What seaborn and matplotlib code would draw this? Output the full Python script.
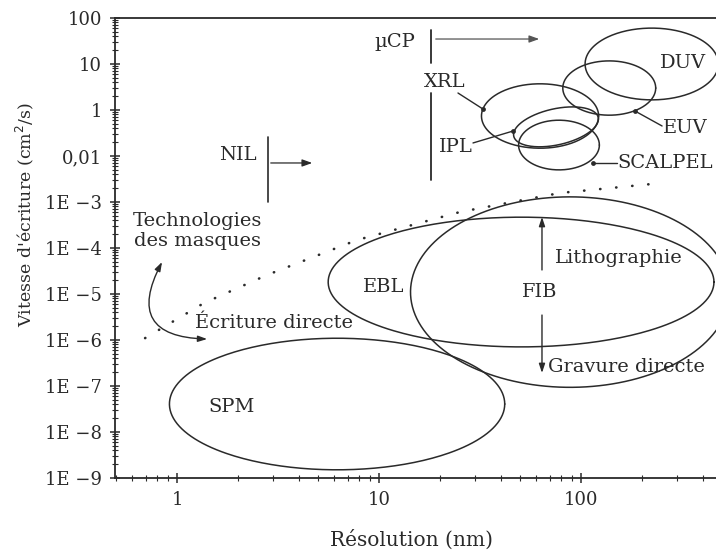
"""Writing speed vs resolution of lithography techniques."""

import numpy as np
import matplotlib

matplotlib.use("Agg")
import matplotlib.pyplot as plt
from matplotlib.ticker import FixedLocator, FixedFormatter, LogLocator, NullFormatter
import seaborn as sns

# ellipses: centre (resolution nm, speed cm2/s), half axes in decades, shear
ell_names = ["SPM", "EBL", "FIB", "DUV", "EUV", "XRL", "IPL", "SCALPEL"]
ell_res = [6.2, 50.5, 88.3, 224.0, 138.0, 62.7, 75.2, 77.8]
ell_speed = [4.06e-8, 1.82e-5, 1.10e-5, 1.0, 0.30, 0.074, 0.043, 0.0173]
ell_half_x = [0.83, 0.955, 0.79, 0.33, 0.23, 0.29, 0.21, 0.20]
ell_half_y = [1.43, 1.41, 2.07, 0.78, 0.59, 0.70, 0.40, 0.54]
ell_shear = [0.0, 0.0, 0.0, 0.0, 0.0, 0.0, 0.8, 0.0]

# dotted boundary between mask technologies and direct writing
bound_res = [0.695, 1.36, 2.79, 7.78, 25.2, 78.7, 252.0]
bound_speed = [1.10e-6, 6.37e-6, 2.59e-5, 1.49e-4, 6.07e-4, 1.57e-3, 2.59e-3]

# y tick positions and labels as printed on the original figure
ytick_pos = [1e-9, 1e-8, 1e-7, 1e-6, 1e-5, 1e-4, 1e-3, 1e-2, 1e-1, 1e0, 1e1]
ytick_lab = ["1E \u22129", "1E \u22128", "1E \u22127", "1E \u22126", "1E \u22125",
             "1E \u22124", "1E \u22123", "0,01", "1", "10", "100"]
xtick_pos = [1, 10, 100]
xtick_lab = ["1", "10", "100"]

INK = "#2a2a2a"

sns.set_theme(style="ticks")
plt.rcParams["font.family"] = ["DejaVu Serif", "DejaVu Sans"]

fig = plt.figure(figsize=(7.16, 5.55), dpi=100)
ax = fig.add_axes([0.1606, 0.1387, 0.8394, 0.8289])
ax.set_xscale("log")
ax.set_yscale("log")

# ellipses drawn in log space
t = np.linspace(0, 2 * np.pi, 300)
for cx, cy, a, b, k in zip(ell_res, ell_speed, ell_half_x, ell_half_y, ell_shear):
    lx = np.log10(cx) + a * np.cos(t)
    ly = np.log10(cy) + b * np.sin(t) + k * a * np.cos(t)
    sns.lineplot(x=10 ** lx, y=10 ** ly, sort=False, estimator=None,
                 color=INK, linewidth=1.1, ax=ax)

ax.plot(bound_res, bound_speed, color=INK, linewidth=1.9,
        linestyle=(0, (0.1, 6)), dash_capstyle="round")

fs = 14
txt = dict(color=INK, fontsize=fs)

# labels inside ellipses
ax.text(1.87, 3.49e-8, "SPM", ha="center", va="center", **txt)
ax.text(10.5, 1.42e-5, "EBL", ha="center", va="center", **txt)
ax.text(62.7, 1.10e-5, "FIB", ha="center", va="center", **txt)
ax.text(320, 1.05, "DUV", ha="center", va="center", **txt)

# leader lines with dots
leaders = [
    ("XRL", (32.7, 0.105), (24.6, 0.234), (21.2, 0.406), "center"),
    ("IPL", (46.1, 0.0349), (29.2, 0.0192), (24.0, 0.0160), "center"),
    ("EUV", (185, 0.095), (252, 0.0449), (255, 0.0406), "left"),
    ("SCALPEL", (115, 0.00705), (151, 0.00705), (152, 0.00705), "left"),
]
for name, dot, end, lab, ha in leaders:
    ax.plot([dot[0], end[0]], [dot[1], end[1]], color=INK, linewidth=1.0)
    sns.scatterplot(x=[dot[0]], y=[dot[1]], color=INK, s=12, linewidth=0, ax=ax)
    ax.text(lab[0], lab[1], name, ha=ha, va="center", **txt)

# uCP / XRL / IPL vertical marker
ax.plot([18.1, 18.1], [5.48, 1.05], color=INK, linewidth=1.3)
ax.plot([18.1, 18.1], [0.234, 0.0030], color=INK, linewidth=1.3)
ax.annotate("", xy=(64.1, 3.49), xytext=(18.5, 3.49),
            arrowprops=dict(arrowstyle="-|>,head_length=0.5,head_width=0.18",
                            color="#555555", linewidth=0.9))
ax.text(12.0, 3.0, "\u00b5CP", ha="center", va="center", **txt)

# NIL marker
ax.plot([2.82, 2.82], [0.0259, 1e-3], color=INK, linewidth=1.2)
ax.annotate("", xy=(4.82, 0.00705), xytext=(2.82, 0.00705),
            arrowprops=dict(arrowstyle="-|>,head_length=0.5,head_width=0.18",
                            color=INK, linewidth=0.9))
ax.text(2.49, 0.0105, "NIL", ha="right", va="center", **txt)

# mask technologies vs direct writing
ax.text(1.256, 2.34e-4, "Technologies\ndes masques", ha="center", va="center",
        linespacing=1.1, **txt)
ax.annotate("", xy=(1.41, 1.05e-6), xytext=(0.843, 4.97e-5),
            arrowprops=dict(arrowstyle="<|-|>,head_length=0.45,head_width=0.15",
                            connectionstyle="arc3,rad=0.8", color=INK, linewidth=1.0,
                            shrinkA=0, shrinkB=0))
ax.text(1.23, 2.34e-6, "\u00c9criture directe", ha="left", va="center", **txt)

# FIB lithography / etching arrows
ax.annotate("", xy=(64.1, 4.72e-4), xytext=(64.1, 3.33e-5),
            arrowprops=dict(arrowstyle="-|>,head_length=0.45,head_width=0.15",
                            color=INK, linewidth=1.0, shrinkA=0, shrinkB=0))
ax.annotate("", xy=(64.1, 1.92e-7), xytext=(64.1, 3.49e-6),
            arrowprops=dict(arrowstyle="-|>,head_length=0.45,head_width=0.15",
                            color=INK, linewidth=1.0, shrinkA=0, shrinkB=0))
ax.text(74.3, 6.07e-5, "Lithographie", ha="left", va="center", **txt)
ax.text(68.7, 2.59e-7, "Gravure directe", ha="left", va="center", **txt)

# axes
ax.set_xlim(0.493, 466)
ax.set_ylim(1e-9, 1e1)
ax.xaxis.set_major_locator(FixedLocator(xtick_pos))
ax.xaxis.set_major_formatter(FixedFormatter(xtick_lab))
ax.xaxis.set_minor_locator(LogLocator(base=10, subs=np.arange(2, 10)))
ax.xaxis.set_minor_formatter(NullFormatter())
ax.yaxis.set_major_locator(FixedLocator(ytick_pos))
ax.yaxis.set_major_formatter(FixedFormatter(ytick_lab))
ax.yaxis.set_minor_locator(LogLocator(base=10, subs=np.arange(2, 10), numticks=20))
ax.yaxis.set_minor_formatter(NullFormatter())
ax.tick_params(which="major", direction="inout", length=7, width=1.1,
               colors=INK, labelsize=13, pad=6)
ax.tick_params(which="minor", direction="inout", length=4, width=0.8, colors=INK)
for side in ["left", "bottom", "top"]:
    ax.spines[side].set_color(INK)
    ax.spines[side].set_linewidth(1.3)
ax.spines["right"].set_visible(False)
ax.set_facecolor("white")
ax.grid(False)

fig.text(411 / 716, 1 - 540 / 555, "R\u00e9solution (nm)", ha="center", va="center",
         color=INK, fontsize=14.5)
fig.text(25 / 716, 1 - 215 / 555, "Vitesse d'\u00e9criture (cm$^2$/s)", ha="center",
         va="center", rotation=90, color=INK, fontsize=12.5)

fig.savefig("out.png", dpi=100, facecolor="white")
